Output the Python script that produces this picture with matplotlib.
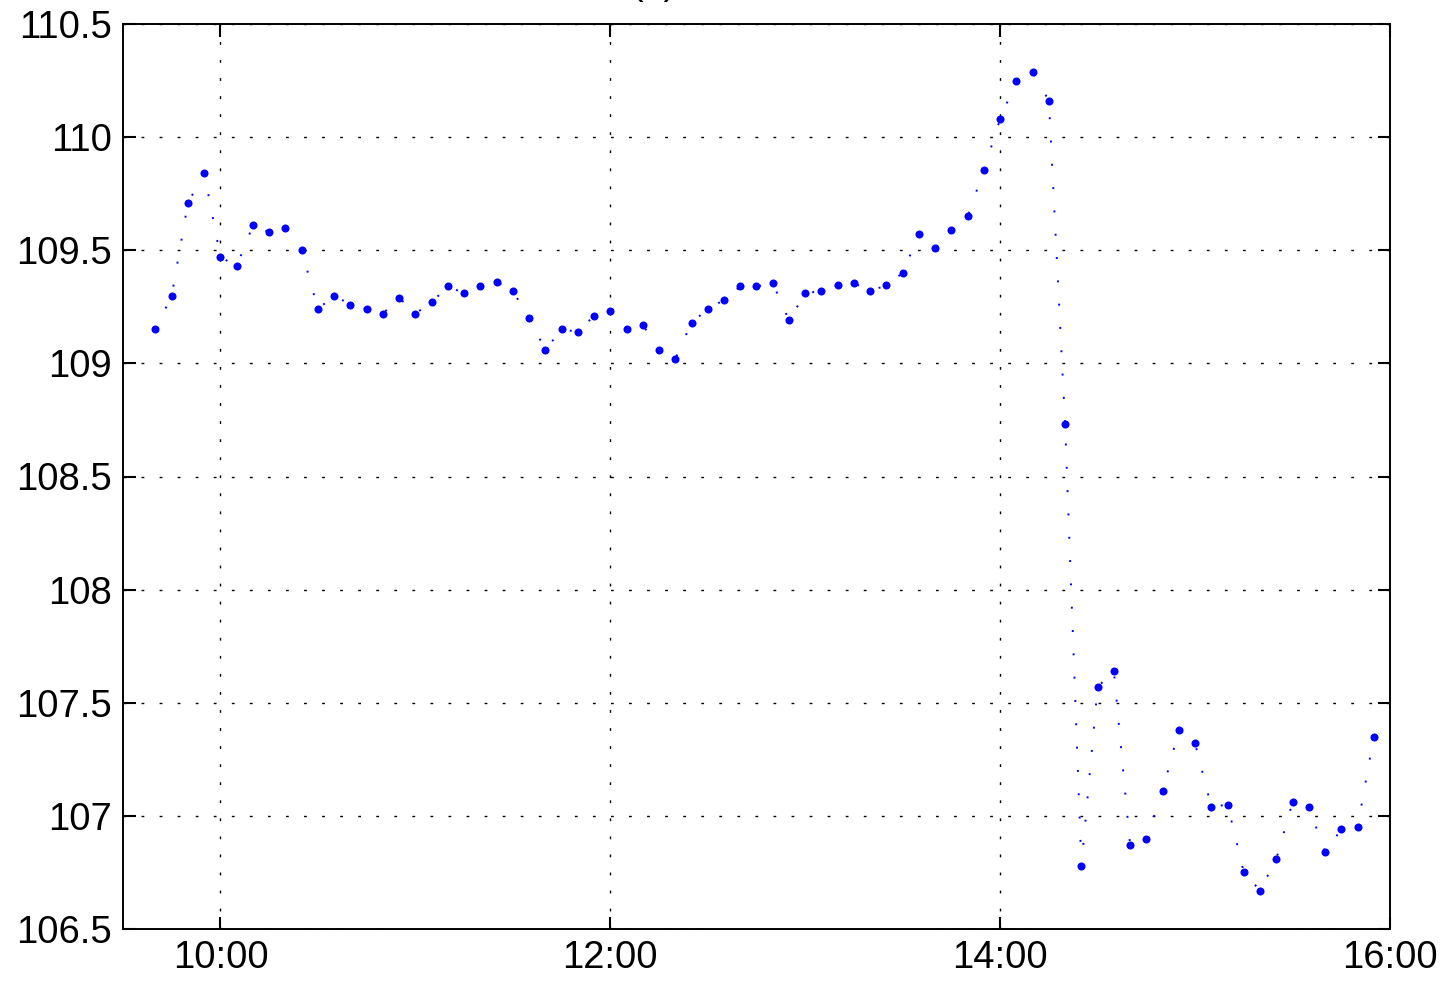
import matplotlib
matplotlib.use('Agg')
import matplotlib.pyplot as plt
import matplotlib.dates as mdates
import pandas as pd

# Price sampled every 5 minutes, 09:40 .. 15:55
times = pd.date_range('2000-01-03 09:40', '2000-01-03 15:55', freq='5min')
price = [
    109.15, 109.30, 109.71, 109.84, 109.47, 109.43, 109.61, 109.58, 109.60, 109.50,
    109.24, 109.30, 109.26, 109.24, 109.22, 109.29, 109.22, 109.27, 109.34, 109.31,
    109.34, 109.36, 109.32, 109.20, 109.06, 109.15, 109.14, 109.21, 109.23, 109.15,
    109.17, 109.06, 109.02, 109.18, 109.24, 109.28, 109.34, 109.34, 109.355, 109.19,
    109.31, 109.32, 109.345, 109.355, 109.32, 109.345, 109.40, 109.57, 109.51, 109.59,
    109.65, 109.855, 110.08, 110.25, 110.29, 110.16, 108.73, 106.78, 107.57, 107.64,
    106.87, 106.90, 107.11, 107.38, 107.32, 107.04, 107.05, 106.75, 106.67, 106.81,
    107.06, 107.04, 106.84, 106.94, 106.95, 107.35,
]
xticks = pd.to_datetime(['2000-01-03 10:00', '2000-01-03 12:00',
                         '2000-01-03 14:00', '2000-01-03 16:00'])
yticks = [106.5, 107, 107.5, 108, 108.5, 109, 109.5, 110, 110.5]
ylabels = ['106.5', '107', '107.5', '108', '108.5', '109', '109.5', '110', '110.5']

plt.rcParams['font.family'] = ['Liberation Sans', 'DejaVu Sans']

fig = plt.figure(figsize=(14.5, 9.83), dpi=100)
ax = fig.add_axes([123 / 1450, 1 - 929 / 983, (1390 - 123) / 1450, (929 - 24) / 983])

ax.plot(times, price, color='blue', linestyle=(0, (1, 11)), linewidth=1.4,
        marker='o', markersize=5.8, markeredgewidth=0, markerfacecolor='blue')

ax.set_xlim(pd.Timestamp('2000-01-03 09:30'), pd.Timestamp('2000-01-03 16:00'))
ax.set_ylim(106.5, 110.5)
ax.set_xticks(xticks)
ax.xaxis.set_major_formatter(mdates.DateFormatter('%H:%M'))
ax.set_yticks(yticks)
ax.set_yticklabels(ylabels)

ax.grid(True, color='black', linestyle=(0, (2, 11)), linewidth=1.0)
ax.tick_params(direction='in', length=9, width=1.5, labelsize=27.5,
               top=True, right=True, pad=8)
for s in ax.spines.values():
    s.set_linewidth(1.4)

# title sits mostly above the visible area, as in the original
fig.text(654 / 1450, 1 + 6 / 983, '(a)', ha='center', va='baseline', fontsize=27)

fig.savefig('out.png', dpi=100)
